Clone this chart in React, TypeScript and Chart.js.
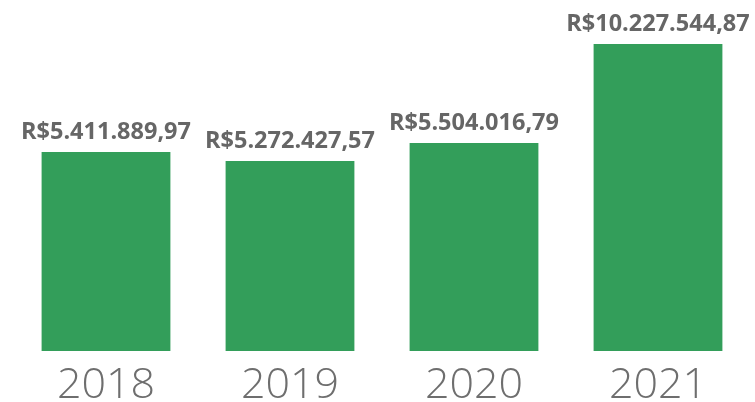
import React, { useEffect, useRef } from "react";
import { Chart, registerables } from "chart.js";

Chart.register(...registerables);

// Categories and the amounts printed above each bar
const years = ["2018", "2019", "2020", "2021"];
const amountLabels = ["R$5.411.889,97", "R$5.272.427,57", "R$5.504.016,79", "R$10.227.544,87"];
// Bar lengths as drawn in the picture (in millions; the source bars are not proportional to the amounts)
const barLengths = [6.63, 6.33, 6.93, 10.2275];

const BAR_COLOR = "#339e5a";
const TEXT_COLOR = "#666666";
const FONT_FAMILY = "'Open Sans', 'DejaVu Sans', sans-serif";

const labelPlugin = {
  id: "labels",
  afterDatasetsDraw(chart: any) {
    const ctx = chart.ctx;
    const meta = chart.getDatasetMeta(0);
    const xScale = chart.scales.x;
    ctx.save();
    ctx.textAlign = "center";
    ctx.textBaseline = "alphabetic";
    ctx.fillStyle = TEXT_COLOR;
    ctx.font = `bold 23.5px ${FONT_FAMILY}`;
    meta.data.forEach((bar: any, i: number) => {
      ctx.fillText(amountLabels[i], bar.x, bar.y - 13);
    });
    ctx.fillStyle = "#6e6e6e";
    ctx.font = `300 43px ${FONT_FAMILY}`;
    years.forEach((y, i) => {
      ctx.fillText(y, xScale.getPixelForValue(i), chart.chartArea.bottom + 47);
    });
    ctx.restore();
  },
};

export default function App() {
  const ref = useRef<HTMLCanvasElement | null>(null);
  useEffect(() => {
    if (!ref.current) return;
    const chart = new Chart(ref.current, {
      type: "bar",
      data: {
        labels: years,
        datasets: [
          {
            data: barLengths,
            backgroundColor: BAR_COLOR,
            borderWidth: 0,
            barPercentage: 0.7,
            categoryPercentage: 1,
          },
        ],
      },
      options: {
        animation: false,
        responsive: true,
        maintainAspectRatio: false,
        layout: { padding: { left: 14, right: 5, top: 0, bottom: 51 } },
        plugins: { legend: { display: false }, tooltip: { enabled: false } },
        scales: {
          x: { display: false },
          y: {
            display: false,
            min: 0,
            max: 11.69,
          },
        },
      },
      plugins: [labelPlugin],
    });
    return () => chart.destroy();
  }, []);
  return (
    <div style={{ position: "fixed", left: 0, top: 0, width: 755, height: 402, background: "#fff" }}>
      <canvas ref={ref} />
    </div>
  );
}
